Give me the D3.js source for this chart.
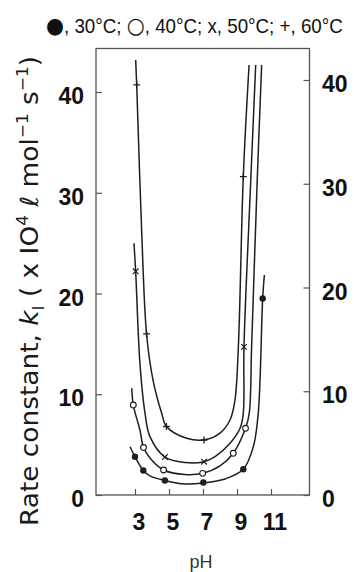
<!DOCTYPE html>
<html>
<head>
<meta charset="utf-8">
<script src="https://cdn.jsdelivr.net/npm/d3@7"></script>
<style>
html,body{margin:0;padding:0;background:#fff;}
svg{display:block;}
</style>
</head>
<body>
<svg id="chart" width="354" height="572"></svg>
<script>
// ---- data ----
const xTicks = [3, 5, 7, 9, 11];
const yTicks = [0, 10, 20, 30, 40];

// smooth curves (pH, k1)
const c30pH = [2.71, 3.0, 3.49, 3.88, 4.76, 5.94, 7.02, 8.29, 9.37, 9.96, 10.25, 10.51, 10.61];
const c30k  = [4.79, 3.80, 2.43, 1.89, 1.44, 1.09, 1.19, 1.59, 2.55, 4.79, 8.11, 19.52, 21.84];
const c40pH = [2.81, 2.90, 3.29, 3.50, 3.88, 4.68, 5.94, 6.98, 8.0, 8.78, 9.50, 9.72, 9.86, 10.19, 10.45];
const c40k  = [10.59, 8.93, 6.45, 4.71, 3.67, 2.48, 2.03, 2.15, 2.88, 4.14, 6.62, 8.11, 14.72, 31.27, 42.68];
const c50pH = [2.94, 3.04, 3.29, 3.59, 3.88, 4.76, 5.94, 7.06, 7.71, 8.59, 9.18, 9.37, 9.41, 9.81, 10.10];
const c50k  = [24.98, 22.16, 13.07, 8.11, 5.79, 3.77, 3.23, 3.31, 3.80, 5.13, 6.62, 8.11, 14.69, 31.27, 42.68];
const c60pH = [3.04, 3.10, 3.39, 3.68, 4.06, 4.57, 4.85, 6.04, 7.06, 8.0, 8.59, 8.88, 9.08, 9.37, 9.71];
const c60k  = [43.18, 40.69, 26.3, 15.98, 11.41, 8.11, 6.8, 5.63, 5.46, 6.15, 7.44, 9.43, 14.72, 31.59, 42.68];

// measured points
const m30pH = [3.0, 3.49, 4.76, 7.02, 9.37, 10.51];
const m30k  = [3.8, 2.43, 1.44, 1.24, 2.55, 19.5];
const m40pH = [2.9, 3.5, 4.68, 6.98, 8.78, 9.5];
const m40k  = [8.93, 4.71, 2.48, 2.15, 4.14, 6.62];
const m50pH = [3.04, 4.76, 7.06, 9.41];
const m50k  = [22.2, 3.77, 3.31, 14.7];
const m60pH = [3.1, 3.68, 4.85, 7.06, 9.37];
const m60k  = [40.7, 16.0, 6.8, 5.46, 31.6];

const legendSymbols = ["\u25CF", "\u25CB", "x", "+"];
const legendLabels = ["30\u00B0C", "40\u00B0C", "50\u00B0C", "60\u00B0C"];

// ---- layout ----
const svg = d3.select("#chart");
const frame = {left: 96, right: 309.5, top: 48.5, bottom: 495};
const x = d3.scaleLinear().domain([3, 11]).range([135, 271]);
const y = d3.scaleLinear().domain([0, 40]).range([495, 92]);
const yR = d3.scaleLinear().domain([0, 40]).range([495, 80]);

const ink = "#1e1e1e";
const frameCol = "#555";

// frame
svg.append("rect")
  .attr("x", frame.left).attr("y", frame.top)
  .attr("width", frame.right - frame.left).attr("height", frame.bottom - frame.top)
  .attr("fill", "none").attr("stroke", frameCol).attr("stroke-width", 1.3);

// left axis ticks (inward)
const leftAxis = d3.axisRight(y).tickValues(yTicks).tickSize(6).tickFormat("");
const gL = svg.append("g").attr("transform", `translate(${frame.left},0)`).call(leftAxis);
gL.select(".domain").remove();
gL.selectAll("line").attr("stroke", frameCol).attr("stroke-width", 1.2);

// right axis ticks (inward)
const rightAxis = d3.axisLeft(yR).tickValues(yTicks).tickSize(6).tickFormat("");
const gR = svg.append("g").attr("transform", `translate(${frame.right},0)`).call(rightAxis);
gR.select(".domain").remove();
gR.selectAll("line").attr("stroke", frameCol).attr("stroke-width", 1.2);

// bottom ticks (inward)
const bottomAxis = d3.axisTop(x).tickValues(xTicks).tickSize(6).tickFormat("");
const gB = svg.append("g").attr("transform", `translate(0,${frame.bottom})`).call(bottomAxis);
gB.select(".domain").remove();
gB.selectAll("line").attr("stroke", frameCol).attr("stroke-width", 1.2);

const labelFont = "'Liberation Sans', Arial, sans-serif";

// left tick labels
svg.append("g").selectAll("text").data(yTicks).join("text")
  .attr("x", 84).attr("y", d => y(d) + 4)
  .attr("text-anchor", "end").attr("dominant-baseline", "central")
  .attr("font-family", labelFont).attr("font-weight", "bold").attr("font-size", 23)
  .attr("fill", "#111").text(d => d);

// right tick labels
svg.append("g").selectAll("text").data(yTicks).join("text")
  .attr("x", 322).attr("y", d => yR(d) + 4)
  .attr("text-anchor", "start").attr("dominant-baseline", "central")
  .attr("font-family", labelFont).attr("font-weight", "bold").attr("font-size", 23)
  .attr("fill", "#111").text(d => d);

// bottom tick labels
svg.append("g").selectAll("text").data(xTicks).join("text")
  .attr("x", d => x(d) + 4).attr("y", 522)
  .attr("text-anchor", "middle").attr("dominant-baseline", "central")
  .attr("font-family", labelFont).attr("font-weight", "bold").attr("font-size", 23)
  .attr("fill", "#111").text(d => d);

// x title
svg.append("text").attr("x", 201).attr("y", 568)
  .attr("text-anchor", "middle")
  .attr("font-family", labelFont).attr("font-size", 18).attr("fill", "#333")
  .text("pH");

// y title
const yt = svg.append("text")
  .attr("transform", "translate(38,526) rotate(-90)")
  .attr("text-anchor", "start")
  .attr("font-family", "'DejaVu Sans', Verdana, sans-serif")
  .attr("font-size", 25).attr("fill", "#1a1a1a")
  .attr("textLength", 470).attr("lengthAdjust", "spacingAndGlyphs");
yt.append("tspan").text("Rate constant, ");
yt.append("tspan").attr("font-style", "italic").text("k");
yt.append("tspan").attr("font-size", 16).attr("dy", 6).text("I");
yt.append("tspan").attr("dy", -6).text(" ( x IO");
yt.append("tspan").attr("font-size", 16).attr("dy", -10).text("4");
yt.append("tspan").attr("dy", 10).text(" \u2113 mol");
yt.append("tspan").attr("font-size", 16).attr("dy", -10).text("\u22121");
yt.append("tspan").attr("dy", 10).text(" s");
yt.append("tspan").attr("font-size", 16).attr("dy", -10).text("\u22121");
yt.append("tspan").attr("dy", 10).text(")");

// legend (horizontally condensed like the narrow face in the figure)
const lgG = svg.append("g");
const lg = lgG.append("text").attr("x", 0).attr("y", 0)
  .attr("font-family", labelFont).attr("font-size", 20).attr("fill", "#111");
legendSymbols.forEach((sym, i) => {
  const big = i < 2;
  lg.append("tspan")
    .attr("font-family", big ? "'DejaVu Sans', sans-serif" : labelFont)
    .attr("font-size", big ? 22 : 20)
    .text(sym);
  lg.append("tspan")
    .text(", " + legendLabels[i] + (i < legendSymbols.length - 1 ? "; " : ""));
});
const natW = lg.node().getComputedTextLength();
const sx = 297 / natW;
lgG.attr("transform", `translate(46,33) scale(${sx},1)`);

// curves
const line = d3.line().x(d => x(d[0])).y(d => y(d[1])).curve(d3.curveCatmullRom.alpha(0.5));
const curves = [[c30pH, c30k], [c40pH, c40k], [c50pH, c50k], [c60pH, c60k]];
svg.append("g").selectAll("path").data(curves).join("path")
  .attr("d", d => line(d3.zip(d[0], d[1])))
  .attr("fill", "none").attr("stroke", ink).attr("stroke-width", 1.5);

// markers
const g = svg.append("g");
g.selectAll(".m30").data(d3.zip(m30pH, m30k)).join("circle")
  .attr("cx", d => x(d[0])).attr("cy", d => y(d[1])).attr("r", 3.2)
  .attr("fill", ink);
g.selectAll(".m40").data(d3.zip(m40pH, m40k)).join("circle")
  .attr("cx", d => x(d[0])).attr("cy", d => y(d[1])).attr("r", 2.9)
  .attr("fill", "#fff").attr("stroke", ink).attr("stroke-width", 1.1);
const s = 2.8;
g.selectAll(".m50").data(d3.zip(m50pH, m50k)).join("path")
  .attr("d", d => { const cx = x(d[0]), cy = y(d[1]);
    return `M${cx-s},${cy-s}L${cx+s},${cy+s}M${cx-s},${cy+s}L${cx+s},${cy-s}`; })
  .attr("stroke", ink).attr("stroke-width", 1.2).attr("fill", "none");
const p = 3.4;
g.selectAll(".m60").data(d3.zip(m60pH, m60k)).join("path")
  .attr("d", d => { const cx = x(d[0]), cy = y(d[1]);
    return `M${cx-p},${cy}L${cx+p},${cy}M${cx},${cy-p}L${cx},${cy+p}`; })
  .attr("stroke", ink).attr("stroke-width", 1.3).attr("fill", "none");
</script>
</body>
</html>
